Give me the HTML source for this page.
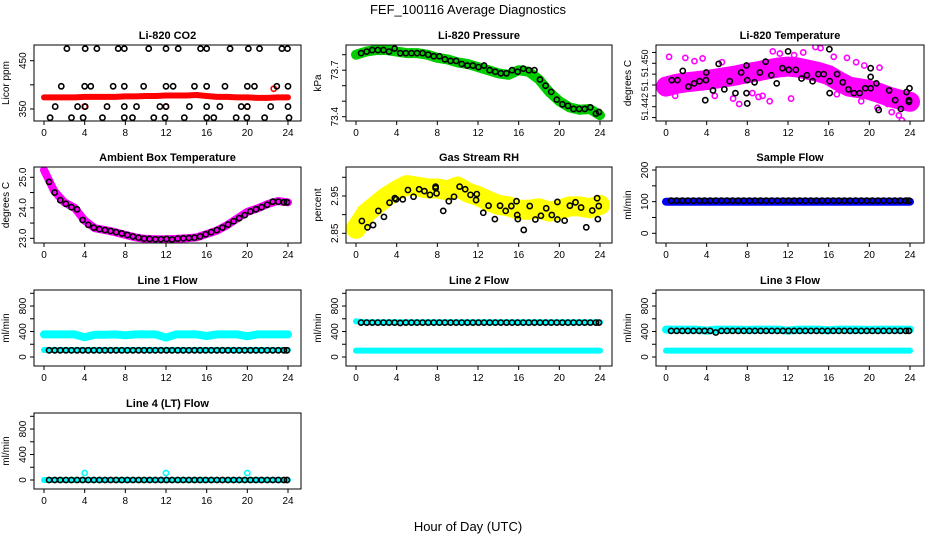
<!DOCTYPE html>
<html><head><meta charset="utf-8">
<style>
html,body{margin:0;padding:0;background:#fff;}
svg text{font-family:"Liberation Sans",sans-serif;}
</style></head>
<body>
<svg id="chart" width="936" height="540" viewBox="0 0 936 540" xmlns="http://www.w3.org/2000/svg">
<text x="468" y="14" text-anchor="middle" font-size="13">FEF_100116  Average Diagnostics</text>
<text x="468" y="531" text-anchor="middle" font-size="13">Hour of Day (UTC)</text>
</svg>
<script>
// ---- data ----
const hours = [0,1,2,3,4,5,6,7,8,9,10,11,12,13,14,15,16,17,18,19,20,21,22,23,24];
const blackHours = [0.5,1.05,1.6,2.15,2.7,3.25,3.8,4.35,4.9,5.45,6,6.55,7.1,7.65,8.2,8.75,9.3,9.85,10.4,10.95,11.5,12.05,12.6,13.15,13.7,14.25,14.8,15.35,15.9,16.45,17,17.55,18.1,18.65,19.2,19.75,20.3,20.85,21.4,21.95,22.5,23.05,23.6,23.9];

const co2Band = [374,374,374,374,375,375,375,375,376,376,377,377,378,378,378,379,377,375,375,374,374,373,373,374,374];
const co2PtHours = [2.25,4.05,5.2,7.3,7.9,10.3,12.0,13.2,15.4,16.0,18.3,20.1,21.2,23.4,23.95, 1.7,4.0,4.6,6.8,7.9,9.8,12.0,12.7,14.8,16.0,17.8,20.0,20.7,22.9,24.0, 1.1,3.3,4.05,6.2,7.9,9.1,11.4,12.0,14.3,16.0,17.3,19.4,20.0,22.3,24.0, 0.6,2.7,3.85,5.75,7.9,8.7,10.8,11.9,13.8,16.0,16.7,18.9,19.95,21.7,24.1];
const co2PtVals = [475,475,475,475,475,475,475,475,475,475,475,475,475,475,475, 397,397,397,397,397,397,397,397,397,397,397,397,397,397,397, 355,355,355,355,355,355,355,355,355,355,355,355,355,355,355, 332,332,332,332,332,332,332,332,332,332,332,332,332,332,332];
const co2RedHours = [4.0,12.0,20.0,22.6];
const co2RedVals = [355,355,355,392];

const presBand = [73.80,73.82,73.83,73.83,73.82,73.81,73.81,73.80,73.78,73.77,73.75,73.74,73.72,73.70,73.68,73.67,73.70,73.69,73.64,73.56,73.50,73.46,73.445,73.45,73.41];
const presBlack = [73.81,73.82,73.83,73.83,73.83,73.82,73.84,73.81,73.81,73.81,73.81,73.81,73.80,73.79,73.79,73.77,73.76,73.76,73.74,73.73,73.73,73.72,73.73,73.70,73.69,73.68,73.68,73.70,73.69,73.71,73.70,73.70,73.64,73.60,73.56,73.51,73.48,73.47,73.45,73.45,73.45,73.46,73.42,73.43];

const tempBand = [51.4457,51.4462,51.4465,51.4467,51.4469,51.4472,51.4475,51.4478,51.4482,51.4485,51.4489,51.4492,51.4494,51.4492,51.4488,51.4484,51.4478,51.4467,51.4457,51.4454,51.4451,51.4445,51.4438,51.4433,51.4429];
const tempPtHours = [0.56,1.12,1.65,2.21,2.77,3.3,3.86,3.93,3.96,4.62,5.18,5.74,6.27,6.83,7.39,7.92,7.92,7.99,7.99,8.71,9.24,9.8,10.36,10.89,11.45,12.01,12.08,12.77,13.33,13.86,14.42,14.98,15.51,16.07,16.1,16.1,16.83,17.39,17.95,18.48,19.04,19.6,20.13,20.13,20.13,20.69,20.92,21.95,22.54,23.1,23.66,23.9,23.9,23.95];
const tempPtVals = [51.4469,51.4469,51.4486,51.4457,51.4463,51.4467,51.4432,51.4469,51.4483,51.4450,51.4499,51.4452,51.4467,51.4445,51.4483,51.4445,51.4496,51.4469,51.4426,51.4465,51.4483,51.4503,51.4478,51.4463,51.4491,51.4522,51.4488,51.4488,51.4472,51.4478,51.4467,51.4480,51.4480,51.4526,51.4467,51.4445,51.4480,51.4465,51.4452,51.4445,51.4445,51.4454,51.4491,51.4475,51.4454,51.4463,51.4414,51.4450,51.4432,51.4416,51.4447,51.4432,51.4429,51.4454];
const tempPinkHours = [0.3,1.9,2.8,3.6,5.5,6.6,7.2,8.5,9.5,10.5,11.2,12.6,13.5,14.7,15.2,16.5,17.8,18.7,19.5,21.0,21.8,22.2,22.9,23.2,23.5,0.9,4.8,9.1,10.2,12.3,16.8,19.2,20.8];
const tempPinkVals = [51.4512,51.4510,51.4504,51.4509,51.4502,51.4435,51.4425,51.4445,51.4440,51.4522,51.4518,51.4515,51.4520,51.4530,51.4528,51.4512,51.4510,51.4502,51.4496,51.4492,51.4425,51.4410,51.4404,51.4395,51.4385,51.4440,51.4440,51.4438,51.4430,51.4435,51.4443,51.4430,51.4418];

const ambBand = [25.24,24.55,24.18,24.0,23.58,23.33,23.27,23.2,23.11,23.03,22.98,22.97,22.97,22.98,23.0,23.03,23.14,23.25,23.43,23.65,23.87,23.98,24.12,24.22,24.18];
const ambBlack = [24.85,24.5,24.25,24.13,24.02,23.95,23.6,23.44,23.35,23.3,23.27,23.24,23.2,23.16,23.11,23.06,23.02,22.99,22.98,22.97,22.97,22.98,22.96,22.99,23.0,23.01,23.02,23.06,23.13,23.2,23.27,23.35,23.45,23.56,23.66,23.76,23.88,23.95,24.02,24.1,24.2,24.2,24.18,24.18];

const rhBand = [2.862,2.904,2.926,2.948,2.965,2.979,2.975,2.970,2.970,2.965,2.975,2.959,2.950,2.937,2.926,2.922,2.913,2.913,2.917,2.908,2.913,2.922,2.922,2.917,2.926];
const rhPtHours = [0.58,1.13,1.68,2.2,2.75,3.3,3.82,3.95,4.6,5.11,5.66,6.21,6.73,7.28,7.83,7.83,7.93,8.58,9.13,9.64,10.19,10.74,11.26,11.81,11.88,12.52,13.04,13.66,14.17,14.72,15.28,15.79,15.86,15.92,16.5,17.09,17.64,18.19,18.71,19.26,19.81,19.81,20.52,21.04,21.59,22.14,22.65,23.24,23.72,23.79,23.88];
const rhPtVals = [2.883,2.866,2.872,2.910,2.894,2.932,2.944,2.941,2.941,2.966,2.948,2.968,2.963,2.953,2.975,2.971,2.957,2.910,2.936,2.948,2.975,2.968,2.953,2.939,2.955,2.905,2.924,2.888,2.924,2.910,2.923,2.936,2.899,2.888,2.859,2.923,2.887,2.897,2.917,2.899,2.887,2.934,2.884,2.924,2.933,2.919,2.866,2.911,2.944,2.888,2.923];

const sampleBand = [100,100,100,100,100,100,100,100,100,100,100,100,100,100,100,100,100,100,100,100,100,100,100,100,100];
const sampleBlack = [103,103,103,103,103,103,103,103,103,103,103,103,103,103,103,103,103,103,103,103,103,103,103,103,103,103,103,103,103,103,103,103,103,103,103,103,103,103,103,103,103,103,103,103];

const line1Upper = [355,355,355,355,310,350,350,355,340,355,355,355,305,355,355,355,330,355,355,355,325,355,355,355,355];
const line1Lower = [110,110,110,110,110,110,110,110,110,110,110,110,110,110,110,110,110,110,110,110,110,110,110,110,110];
const line1Black = [105,105,105,105,105,105,105,105,105,105,105,105,105,105,105,105,105,105,105,105,105,105,105,105,105,105,105,105,105,105,105,105,105,105,105,105,105,105,105,105,105,105,105,105];

const line2Upper = [560,545,545,545,545,545,545,545,545,545,545,545,545,545,545,545,545,545,545,545,545,545,545,545,545];
const line2Lower = [100,100,100,100,100,100,100,100,100,100,100,100,100,100,100,100,100,100,100,100,100,100,100,100,100];
const line2Black = [540,540,540,540,540,540,540,535,540,540,540,540,540,540,540,540,540,540,540,540,540,540,540,540,540,540,540,540,540,540,540,540,540,540,540,540,540,540,540,540,540,540,540,540];

const line3Upper = [430,430,430,430,415,430,430,430,425,430,430,430,415,430,430,430,420,430,430,430,425,430,430,430,430];
const line3Lower = [100,100,100,100,100,100,100,100,100,100,100,100,100,100,100,100,100,100,100,100,100,100,100,100,100];
const line3Black = [410,410,410,410,410,410,410,410,385,410,410,410,410,410,410,410,410,410,410,410,410,410,410,410,410,410,410,410,410,410,410,410,410,410,410,410,410,410,410,410,410,410,410,410];

const line4Band = [0,0,0,0,0,0,0,0,0,0,0,0,0,0,0,0,0,0,0,0,0,0,0,0,0];
const line4Black = [0,0,0,0,0,0,0,0,0,0,0,0,0,0,0,0,0,0,0,0,0,0,0,0,0,0,0,0,0,0,0,0,0,0,0,0,0,0,0,0,0,0,0,0];
const line4OutHours = [4.0,12.0,20.0];
const line4OutVals = [110,110,110];

const xTickLabels = ["0","4","8","12","16","20","24"];

// ---- drawing ----
const NS = "http://www.w3.org/2000/svg";
const svg = document.getElementById("chart");
function mk(tag, attrs, parent) {
  const e = document.createElementNS(NS, tag);
  for (const k in attrs) e.setAttribute(k, attrs[k]);
  (parent || svg).appendChild(e);
  return e;
}
const colL = [34, 346, 656], colR = [301, 612, 924];
const rowT = [45, 167, 290, 413], boxH = 76;

const panels = [
  {name:"li820-co2", title:"Li-820 CO2", ylab:"Licor ppm", r:0,c:0, v1:450,o1:15.7,v2:350,o2:64, ticks:[350,400,450], labels:{350:"350",450:"450"}},
  {name:"li820-pressure", title:"Li-820 Pressure", ylab:"kPa", r:0,c:1, v1:73.8,o1:9.7,v2:73.4,o2:71.7, ticks:[73.4,73.5,73.6,73.7,73.8], labels:{73.4:"73.4",73.7:"73.7"}},
  {name:"li820-temperature", title:"Li-820 Temperature", ylab:"degrees C", r:0,c:2, v1:51.450,o1:18.3,v2:51.442,o2:61.7, ticks:[51.440,51.442,51.444,51.446,51.448,51.450,51.452], labels:{51.442:"51.442",51.446:"51.",51.45:"51.450"}, lfs:9},
  {name:"ambient-box-temperature", title:"Ambient Box Temperature", ylab:"degrees C", r:1,c:0, v1:25,o1:10.3,v2:23,o2:71.3, ticks:[23,23.5,24,24.5,25], labels:{23:"23.0",24:"24.0",25:"25.0"}},
  {name:"gas-stream-rh", title:"Gas Stream RH", ylab:"percent", r:1,c:1, v1:3.0,o1:10.3,v2:2.85,o2:66.3, ticks:[2.85,2.9,2.95,3.0], labels:{2.85:"2.85",2.95:"2.95"}},
  {name:"sample-flow", title:"Sample Flow", ylab:"ml/min", r:1,c:2, v1:200,o1:3,v2:0,o2:66.3, ticks:[0,50,100,150,200], labels:{0:"0",100:"100",200:"200"}},
  {name:"line1-flow", title:"Line 1 Flow", ylab:"ml/min", r:2,c:0, v1:1000,o1:3.3,v2:0,o2:67, ticks:[0,200,400,600,800,1000], labels:{0:"0",400:"400",800:"800"}},
  {name:"line2-flow", title:"Line 2 Flow", ylab:"ml/min", r:2,c:1, v1:1000,o1:3.3,v2:0,o2:67, ticks:[0,200,400,600,800,1000], labels:{0:"0",400:"400",800:"800"}},
  {name:"line3-flow", title:"Line 3 Flow", ylab:"ml/min", r:2,c:2, v1:1000,o1:3.3,v2:0,o2:67, ticks:[0,200,400,600,800,1000], labels:{0:"0",400:"400",800:"800"}},
  {name:"line4-flow", title:"Line 4 (LT) Flow", ylab:"ml/min", r:3,c:0, v1:1000,o1:3.3,v2:0,o2:67, ticks:[0,200,400,600,800,1000], labels:{0:"0",400:"400",800:"800"}}
];

function setup(p) {
  const L = colL[p.c], R = colR[p.c], T = rowT[p.r], B = T + boxH;
  const g = mk("g", {});
  
  
  const clip = mk("clipPath", {id: "clip-" + p.name}, g);
  mk("rect", {x:L, y:T, width:R-L, height:boxH}, clip);
  p.x = h => L + 10 + h * (244 / 24);
  p.y = v => T + p.o1 + (v - p.v1) * (p.o2 - p.o1) / (p.v2 - p.v1);
  p.g = g; p.L = L; p.R = R; p.T = T; p.B = B;
  const plot = mk("g", {"clip-path": "url(#clip-" + p.name + ")"}, g);
  
  
  p.plot = plot;
  const t = mk("text", {x:(L+R)/2, y:T-6, "text-anchor":"middle", "font-size":"11", "font-weight":"bold"}, g);
  t.textContent = p.title;
  
  
  const yl = mk("text", {x:0, y:0, "text-anchor":"middle", "font-size":"10", transform:"translate(" + (L-25) + "," + (T+boxH/2) + ") rotate(-90)"}, g);
  yl.textContent = p.ylab;
  
  
  p.ticks.forEach(v => {
    const yy = p.y(v);
    const tk = mk("line", {x1:L, x2:L-4, y1:yy, y2:yy, stroke:"#000", "stroke-width":"1"}, g);
    
    
    if (p.labels[v] !== undefined) {
      const tl = mk("text", {x:0, y:0, "text-anchor":"middle", "font-size":p.lfs||10, transform:"translate(" + (L-8) + "," + yy + ") rotate(-90)"}, g);
      tl.textContent = p.labels[v];
      
      
    }
  });
  xTickLabels.forEach(lbl => {
    const xx = p.x(+lbl);
    const tk = mk("line", {x1:xx, x2:xx, y1:B, y2:B+4, stroke:"#000", "stroke-width":"1"}, g);
    
    
    const tl = mk("text", {x:xx, y:B+15, "text-anchor":"middle", "font-size":"10"}, g);
    tl.textContent = lbl;
    
    
  });
  return p;
}
function frame(p) {
  const box = mk("rect", {x:p.L, y:p.T, width:p.R-p.L, height:boxH, fill:"none", stroke:"#000", "stroke-width":"1"}, p.g);
  
  
}
function band(p, xs, vals, color, width, nm) {
  const d = xs.map((h, i) => (i ? "L" : "M") + p.x(h).toFixed(1) + "," + p.y(vals[i]).toFixed(1)).join(" ");
  const e = mk("path", {d:d, fill:"none", stroke:color, "stroke-width":width, "stroke-linejoin":"round", "stroke-linecap":"round"}, p.plot);
  
  
}
function points(p, xs, vals, color, nm, r, sw) {
  xs.forEach((h, i) => {
    const e = mk("circle", {cx:p.x(h), cy:p.y(vals[i]), r:r||2.6, fill:"none", stroke:color, "stroke-width":sw||1.6}, p.plot);
    
    
  });
}

const P = panels.map(setup);
band(P[0], hours, co2Band, "#ff0000", 6, "co2-red-band");
points(P[0], co2RedHours, co2RedVals, "#ff0000", "co2-red-point");
points(P[0], co2PtHours, co2PtVals, "#000", "co2-black-point");
band(P[1], hours, presBand, "#00cc00", 10, "pressure-green-band");
points(P[1], blackHours, presBlack, "#000", "pressure-black-point");
band(P[2], hours, tempBand, "#ff00ff", 20, "temperature-magenta-cloud");
points(P[2], tempPinkHours, tempPinkVals, "#ff00ff", "temperature-magenta-point");
points(P[2], tempPtHours, tempPtVals, "#000", "temperature-black-point");
band(P[3], hours, ambBand, "#ff00ff", 8, "ambient-magenta-band");
points(P[3], blackHours, ambBlack, "#000", "ambient-black-point");
band(P[4], hours, rhBand, "#ffff00", 20, "rh-yellow-band");
points(P[4], rhPtHours, rhPtVals, "#000", "rh-black-point");
band(P[5], hours, sampleBand, "#0000ff", 8, "sample-flow-blue-band");
points(P[5], blackHours, sampleBlack, "#000", "sample-flow-black-point");
band(P[6], hours, line1Upper, "#00ffff", 8, "line1-cyan-upper");
band(P[6], hours, line1Lower, "#00ffff", 6, "line1-cyan-lower");
points(P[6], blackHours, line1Black, "#000", "line1-black-point");
band(P[7], hours, line2Upper, "#00ffff", 6, "line2-cyan-upper");
band(P[7], hours, line2Lower, "#00ffff", 6, "line2-cyan-lower");
points(P[7], blackHours, line2Black, "#000", "line2-black-point");
band(P[8], hours, line3Upper, "#00ffff", 8, "line3-cyan-upper");
band(P[8], hours, line3Lower, "#00ffff", 6, "line3-cyan-lower");
points(P[8], blackHours, line3Black, "#000", "line3-black-point");
band(P[9], hours, line4Band, "#00ffff", 6, "line4-cyan-band");
points(P[9], line4OutHours, line4OutVals, "#00ffff", "line4-cyan-point");
points(P[9], blackHours, line4Black, "#000", "line4-black-point");
P.forEach(frame);
</script>
</body></html>
